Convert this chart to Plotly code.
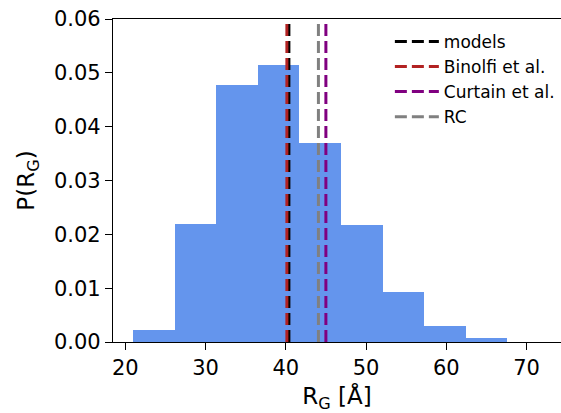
import plotly.graph_objects as go

# Histogram of radius of gyration (density)
bin_edges = [21.0, 26.18, 31.36, 36.53, 41.71, 46.89, 52.07, 57.24, 62.42, 67.6]
density = [0.00223, 0.0219, 0.0478, 0.0515, 0.0370, 0.0217, 0.0093, 0.0030, 0.0007]

# Reference R_G values (vertical dashed lines)
ref_names = ["models", "Binolfi et al.", "Curtain et al.", "RC"]
ref_values = [40.39, 40.14, 45.0, 44.07]
ref_colors = ["#000000", "#B22222", "#800080", "#808080"]

centers = [(a + b) / 2 for a, b in zip(bin_edges[:-1], bin_edges[1:])]
widths = [b - a for a, b in zip(bin_edges[:-1], bin_edges[1:])]

fig = go.Figure()
fig.add_trace(go.Bar(x=centers, y=density, width=widths,
                     marker=dict(color="#6495ED", line=dict(width=0)),
                     showlegend=False, hoverinfo="skip"))

for name, v, c in zip(ref_names, ref_values, ref_colors):
    fig.add_trace(go.Scatter(x=[v, v], y=[0, 0.06], mode="lines", name=name,
                             line=dict(color=c, width=3, dash="12px,5px")))

font_family = "DejaVu Sans"
fig.update_layout(
    width=561, height=413,
    margin=dict(l=113, r=0, t=19, b=71),
    plot_bgcolor="white", paper_bgcolor="white",
    font=dict(family=font_family, size=20, color="black"),
    bargap=0,
    legend=dict(x=0.618, y=0.985, xanchor="left", yanchor="top",
                bgcolor="rgba(255,255,255,0)", font=dict(size=17),
                itemwidth=44, tracegroupgap=0),
    xaxis=dict(range=[18.47, 74.3], tickvals=[20, 30, 40, 50, 60, 70],
               showgrid=False, zeroline=False, showline=True, linecolor="black",
               linewidth=1.3, mirror=True, ticks="outside", ticklen=7, tickwidth=1.3,
               tickcolor="black", tickfont=dict(size=21),
               title=dict(text="R<sub>G</sub> [Å]", font=dict(size=23), standoff=8)),
    yaxis=dict(range=[0, 0.06], tickvals=[0, 0.01, 0.02, 0.03, 0.04, 0.05, 0.06],
               tickformat=".2f",
               showgrid=False, zeroline=False, showline=True, linecolor="black",
               linewidth=1.3, mirror=False, ticks="outside", ticklen=7, tickwidth=1.3,
               tickcolor="black", tickfont=dict(size=21),
               title=dict(text="P(R<sub>G</sub>)", font=dict(size=23), standoff=12)),
)

fig.write_html("out.html")
